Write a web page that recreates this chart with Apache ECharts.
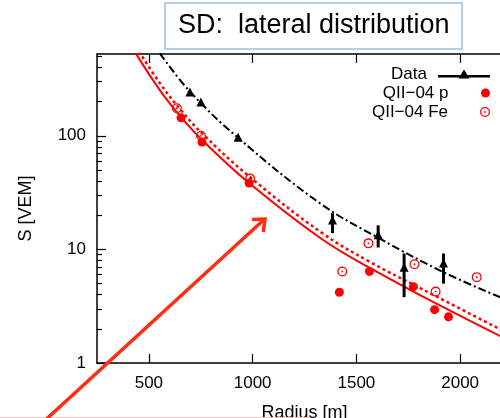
<!DOCTYPE html>
<html><head><meta charset="utf-8">
<script src="https://cdn.jsdelivr.net/npm/echarts@6/dist/echarts.min.js"></script>
<style>html,body{margin:0;padding:0;background:#fff}#c{width:500px;height:418px}</style>
</head><body><div id="c"></div>
<script>
const titleText = 'SD:  lateral distribution';
const xTicks = [500, 1000, 1500, 2000];
const yMajorTicks = [1, 10, 100];
const yMinorTicks = [2,3,4,5,6,7,8,9,20,30,40,50,60,70,80,90,200,300,400,500];
const legendNames = ['Data', 'QII\u221204 p', 'QII\u221204 Fe'];

// Data points with error bars
const dataRadius = [698, 751, 930, 1385, 1605, 1730, 1920];
const dataS      = [240, 196, 96, 18, 13.3, 6.9, 7.5];
const dataLow    = [240, 196, 96, 13.9, 10.4, 3.8, 5.0];
const dataHigh   = [240, 196, 96, 20.8, 16.3, 9.2, 9.2];

// QII-04 proton
const pRadius = [655, 756, 983, 1418, 1563, 1775, 1877, 1944];
const pS      = [144, 88, 38.4, 4.2, 6.4, 4.7, 2.95, 2.55];

// QII-04 iron
const feRadius = [635, 751, 988, 1432, 1558, 1780, 1882, 2080];
const feS      = [175, 100, 42, 6.4, 11.3, 7.4, 4.25, 5.7];

// fitted curves
const fitDataR = [553, 698, 930, 1331, 1611, 1920, 2200];
const fitDataS = [532, 245, 96, 25, 12.5, 6.3, 3.75];
const fitPR = [437, 558, 655, 756, 983, 1331, 1563, 1814, 2200];
const fitPS = [532, 245, 146, 92, 38.4, 12.4, 6.9, 3.9, 1.7];
const fitFeR = [437, 558, 655, 756, 983, 1331, 1563, 1814, 2200];
const fitFeS = [612, 282, 168, 105, 44, 14.1, 7.8, 4.5, 1.95];

const zip = (a, b) => a.map((v, i) => [v, b[i]]);
const FONT = 'Liberation Sans, Arial, sans-serif';
const RED = '#ff0000';
// ring with a small centre dot (open circle symbol)
const RING = 'path://M0,-5 A5,5 0 1,1 0,5 A5,5 0 1,1 0,-5 Z M0,-3.7 A3.7,3.7 0 1,0 0,3.7 A3.7,3.7 0 1,0 0,-3.7 Z M0,-0.9 A0.9,0.9 0 1,1 0,0.9 A0.9,0.9 0 1,1 0,-0.9 Z';

const chart = echarts.init(document.getElementById('c'), null, {renderer: 'canvas'});
const yCommon = {type: 'log', logBase: 10, min: 1, max: 525, position: 'left', splitLine: {show: false}};
const option = {
  animation: false,
  backgroundColor: '#fff',
  title: {
    text: titleText, left: 165, top: 3, padding: [8, 13, 8, 13],
    borderColor: '#9cc2e5', borderWidth: 1.5,
    textStyle: {fontSize: 27, fontWeight: 'normal', color: '#000', fontFamily: FONT, lineHeight: 30}
  },
  legend: [
    {data: [{name: legendNames[0], icon: 'path://M0,6 L52,6 L52,8.6 L0,8.6 Z M20.5,9.5 L26,0.5 L31.5,9.5 Z'}],
     orient: 'vertical', align: 'right', right: 10, top: 65.5, padding: 0, itemWidth: 52, itemHeight: 14,
     textStyle: {fontSize: 17, fontFamily: FONT, color: '#000', lineHeight: 17, padding: [0, 6, 0, 0]}},
    {data: [{name: legendNames[1], icon: 'circle'}],
     orient: 'vertical', align: 'right', right: 10, top: 84.5, padding: 0, itemWidth: 52, itemHeight: 9,
     textStyle: {fontSize: 17, fontFamily: FONT, color: '#000', lineHeight: 17, padding: [0, 6, 0, 0]}},
    {data: [{name: legendNames[2], icon: RING}],
     orient: 'vertical', align: 'right', right: 10, top: 103.5, padding: 0, itemWidth: 52, itemHeight: 10,
     textStyle: {fontSize: 17, fontFamily: FONT, color: '#000', lineHeight: 17, padding: [0, 6, 0, 0]}}
  ],
  grid: {left: 97, top: 54, width: 415, height: 309, containLabel: false, outerBoundsMode: 'none'},
  xAxis: [
    {type: 'value', min: 250, max: 2250, position: 'bottom',
     axisLine: {show: true, lineStyle: {color: '#000', width: 1.5}},
     axisTick: {show: true, inside: true, length: 9, customValues: xTicks, lineStyle: {color: '#000', width: 1.2}},
     axisLabel: {customValues: xTicks, margin: 12, color: '#000', fontSize: 17, fontFamily: FONT,
                 formatter: v => String(v)},
     splitLine: {show: false},
     name: 'Radius [m]', nameLocation: 'middle', nameGap: 41,
     nameTextStyle: {fontSize: 18, fontFamily: FONT, color: '#000'}},
    {type: 'value', min: 250, max: 2250, position: 'top',
     axisLine: {show: true, lineStyle: {color: '#000', width: 1.5}},
     axisTick: {show: true, inside: true, length: 9, customValues: xTicks, lineStyle: {color: '#000', width: 1.2}},
     axisLabel: {show: false}, splitLine: {show: false}}
  ],
  yAxis: [
    Object.assign({}, yCommon, {
      axisLine: {show: true, lineStyle: {color: '#000', width: 1.5}},
      axisTick: {show: true, inside: true, length: 9, customValues: yMajorTicks, lineStyle: {color: '#000', width: 1.2}},
      axisLabel: {customValues: yMajorTicks, margin: 11, color: '#000', fontSize: 17, fontFamily: FONT},
      name: 'S [VEM]', nameLocation: 'middle', nameGap: 62,
      nameTextStyle: {fontSize: 18, fontFamily: FONT, color: '#000'}
    }),
    Object.assign({}, yCommon, {
      axisLine: {show: false},
      axisTick: {show: true, inside: true, length: 5, customValues: yMinorTicks, lineStyle: {color: '#000', width: 1.2}},
      axisLabel: {show: false}
    })
  ],
  series: [
    {type: 'line', name: 'fitData', data: zip(fitDataR, fitDataS), smooth: 0.4, symbol: 'none', clip: true,
     lineStyle: {color: '#000', width: 2, type: [8, 3, 2, 3]}, z: 2, silent: true},
    {type: 'line', name: 'fitP', data: zip(fitPR, fitPS), smooth: 0.4, symbol: 'none', clip: true,
     lineStyle: {color: RED, width: 2}, z: 2, silent: true},
    {type: 'line', name: 'fitFe', data: zip(fitFeR, fitFeS), smooth: 0.4, symbol: 'none', clip: true,
     lineStyle: {color: RED, width: 2.5, type: [3, 3]}, z: 2, silent: true},
    {type: 'scatter', name: legendNames[2], data: zip(feRadius, feS), symbol: RING, symbolSize: 10,
     itemStyle: {color: RED, opacity: 1}, z: 3},
    {type: 'scatter', name: legendNames[1], data: zip(pRadius, pS), symbol: 'circle', symbolSize: 9,
     itemStyle: {color: RED, opacity: 1}, z: 4},
    {type: 'custom', name: legendNames[0], z: 5,
     itemStyle: {color: '#000'},
     data: dataRadius.map((r, i) => [r, dataS[i], dataLow[i], dataHigh[i]]),
     encode: {x: 0, y: 1},
     renderItem: function (params, api) {
       const p = api.coord([api.value(0), api.value(1)]);
       const lo = api.coord([api.value(0), api.value(2)]);
       const hi = api.coord([api.value(0), api.value(3)]);
       const s = 5;
       return {type: 'group', children: [
         {type: 'line', shape: {x1: lo[0], y1: lo[1], x2: hi[0], y2: hi[1]}, style: {stroke: '#000', lineWidth: 3}},
         {type: 'polygon', shape: {points: [[p[0], p[1] - s], [p[0] - 4.5, p[1] + 4], [p[0] + 4.5, p[1] + 4]]}, style: {fill: '#000'}}
       ]};
     }}
  ],
  graphic: [
    {type: 'line', shape: {x1: 0, y1: 417.5, x2: 310, y2: 417.5}, style: {stroke: '#f5c0c0', lineWidth: 1}, z: 1},
    {type: 'line', shape: {x1: 40, y1: 425, x2: 263, y2: 220.5}, style: {stroke: '#ff2d14', lineWidth: 3.5}, z: 10},
    {type: 'polyline', shape: {points: [[252, 219.5], [265, 219], [263.3, 232]]}, style: {stroke: '#ff2d14', lineWidth: 3.5, lineJoin: 'miter', fill: null}, z: 10}
  ]
};
chart.setOption(option);
</script>
</body></html>
